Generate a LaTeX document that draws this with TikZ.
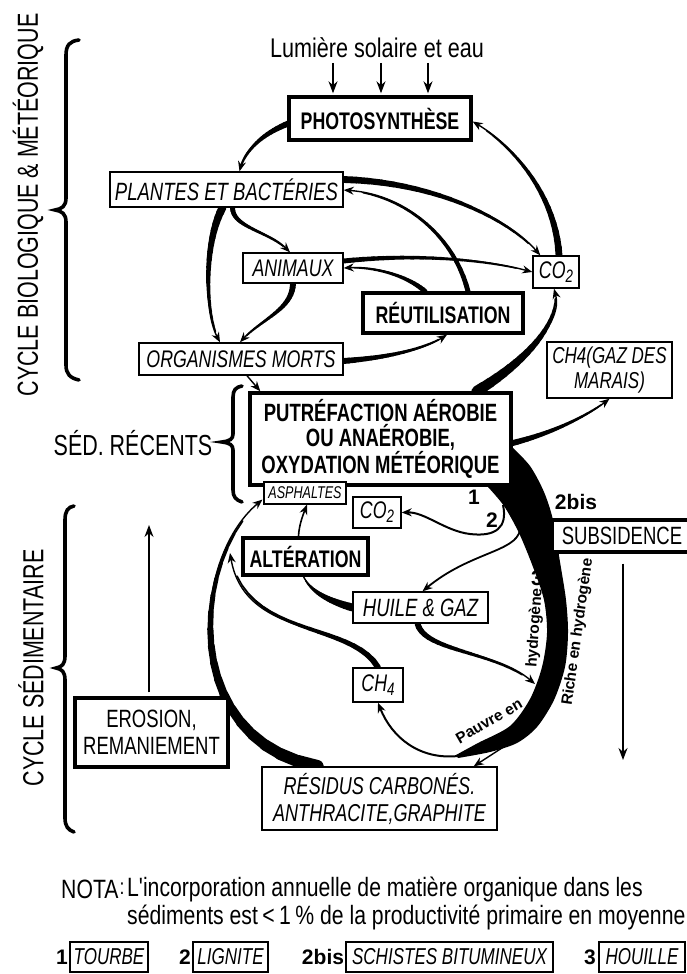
\documentclass[tikz,border=0pt]{standalone}
\usepackage{fontspec}
\setmainfont{Liberation Sans}
\newfontfamily\fN[FakeStretch=0.8]{Liberation Sans}
\newfontfamily\fC[FakeStretch=0.74]{Liberation Sans}
\usetikzlibrary{arrows.meta,calc}
\pgfdeclarelayer{bg}
\pgfsetlayers{bg,main}
\newcommand\subx[1]{\raisebox{-0.3ex}{\fontsize{18}{18}\selectfont #1}}
\newcommand\bzpt[6]{%
  \coordinate (bzA) at ($(#1)!#5!(#2)$);%
  \coordinate (bzB) at ($(#2)!#5!(#3)$);%
  \coordinate (bzC) at ($(#3)!#5!(#4)$);%
  \coordinate (bzD) at ($(bzA)!#5!(bzB)$);%
  \coordinate (bzE) at ($(bzB)!#5!(bzC)$);%
  \coordinate (#6) at ($(bzD)!#5!(bzE)$);%
}
\newcommand\taper[6]{%
  \coordinate (tqa) at (#1);%
  \foreach \k in {1,...,18}{%
    \pgfmathsetmacro\tzT{\k/20}%
    \pgfmathsetmacro\tzW{#5+(#6-(#5))*(\k-0.5)/18}%
    \bzpt{#1}{#2}{#3}{#4}{\tzT}{tqb}%
    \draw[line width=\tzW pt,line cap=round] (tqa) -- (tqb);%
    \coordinate (tqa) at (tqb);%
  }%
}
\newcommand\conn[6][]{%
  \taper{#2}{#3}{#4}{#5}{#6}{1.4}%
  \draw[arr,#1] (#2) .. controls (#3) and (#4) .. (#5);%
}
\tikzset{
  sz/.style 2 args={minimum width=#1pt,minimum height=#2pt},
  box/.style={draw,line width=1.4pt,fill=white,inner sep=0pt,align=center,font=\fC\itshape\fontsize{24}{27}\selectfont},
  tbox/.style={draw,line width=3.4pt,fill=white,inner sep=0pt,align=center,font=\fC\bfseries\fontsize{24}{27}\selectfont},
  lab/.style={inner sep=0pt,align=center},
  arr/.style={line width=1.4pt,-{Stealth[length=10pt,width=8pt]}},
  thinarr/.style={line width=1.3pt,-{Stealth[length=12pt,width=9pt]}},
  brc/.style={line width=3.6pt,line cap=round},
  num/.style={inner sep=0pt,font=\bfseries\fontsize{21}{23}\selectfont},
  curv/.style={inner sep=0pt,font=\bfseries\fontsize{15.5}{17}\selectfont},
  leg/.style={box,minimum height=30pt,font=\fC\itshape\fontsize{23}{25}\selectfont},
}
\begin{document}
\begin{tikzpicture}[x=1pt,y=-1pt]
\useasboundingbox (0,0) rectangle (687,974);
\begin{pgfonlayer}{bg}
\fill[white] (0,0) rectangle (687,974);
\end{pgfonlayer}

% ---------- nodes ----------
\node[tbox,sz={182}{43}] (photo) at (380,118.5) {PHOTOSYNTHÈSE};
\node[box,sz={233}{35},font=\fC\itshape\fontsize{25}{27}\selectfont] (plantes) at (226.5,189.5) {PLANTES ET BACTÉRIES};
\node[box,sz={100}{30}] (animaux) at (293,268) {ANIMAUX};
\node[box,sz={46}{32}] (co2a) at (556,272) {CO\subx{2}};
\node[tbox,sz={160}{40}] (reutil) at (443,313) {RÉUTILISATION};
\node[box,sz={204}{32}] (morts) at (241,359) {ORGANISMES MORTS};
\node[box,sz={125}{56},font=\fC\itshape\fontsize{23}{25}\selectfont] (ch4m) at (609.5,370) {CH4(GAZ DES\\MARAIS)};
\node[tbox,sz={261}{92},font=\fC\bfseries\fontsize{25}{25.5}\selectfont] (putref) at (380.5,439) {PUTRÉFACTION AÉROBIE\\OU ANAÉROBIE,\\OXYDATION MÉTÉORIQUE};
\node[box,sz={82}{22},line width=1.1pt,font=\fC\itshape\fontsize{17}{18}\selectfont] (asph) at (305,493) {ASPHALTES};
\node[box,sz={48}{31}] (co2b) at (377,512.5) {CO\subx{2}};
\node[tbox,sz={140}{32},font=\fC\fontsize{25}{27}\selectfont] (subs) at (622,536) {SUBSIDENCE};
\node[tbox,sz={125}{37}] (alter) at (305.5,556.5) {ALTÉRATION};
\node[box,sz={135}{31},font=\fC\itshape\fontsize{25}{27}\selectfont] (huile) at (420.5,607.5) {HUILE \& GAZ};
\node[box,sz={50}{34}] (ch4b) at (378,685) {CH\subx{4}};
\node[tbox,sz={153}{69},font=\fC\fontsize{25}{27}\selectfont] (erosion) at (151.5,732.5) {EROSION,\\REMANIEMENT};
\node[box,sz={235}{63},font=\fC\itshape\fontsize{24.4}{27}\selectfont] (residus) at (379.5,798.5) {RÉSIDUS CARBONÉS.\\ANTHRACITE,GRAPHITE};

% text labels
\node[lab,font=\fN\fontsize{27}{29}\selectfont] (lum) at (377,48) {Lumière solaire et eau};
\node[lab,rotate=90,font=\fC\fontsize{29}{31}\selectfont] (cyc1) at (28,205) {CYCLE BIOLOGIQUE \& MÉTÉORIQUE};
\node[lab,font=\fC\fontsize{29}{31}\selectfont] (sed) at (133,443) {SÉD. RÉCENTS};
\node[lab,rotate=90,font=\fC\fontsize{29}{31}\selectfont] (cyc2) at (31,668) {CYCLE SÉDIMENTAIRE};
\node[num] (k1) at (474,497) {1};
\node[num] (k2) at (492,520) {2};
\node[num] (k2b) at (576,502) {2bis};
\node[num] (k3) at (537,578) {3};
\node[curv,rotate=30] (pauv) at (489,721) {Pauvre en};
\node[curv,rotate=86] (hyd1) at (535,628) {hydrogène};
\node[curv,rotate=82] (riche) at (578,632) {Riche en hydrogène};

% NOTA
\node[lab,anchor=west,font=\fN\fontsize{26.5}{28}\selectfont] (nota) at (61,889) {NOTA};
\node[lab,font=\fN\fontsize{22}{24}\selectfont] (colon) at (122,889) {:};
\node[lab,anchor=west,font=\fN\fontsize{26.5}{28}\selectfont] (nota1) at (127,889) {L'incorporation annuelle de matière organique dans les};
\node[lab,anchor=west,font=\fN\fontsize{26.5}{28}\selectfont] (nota2) at (127,917) {sédiments est\,<\,1\,\% de la productivité primaire en moyenne};

% legend
\node[num] (n1) at (62,957) {1};
\node[leg,minimum width=78pt] (tourbe) at (109,957) {TOURBE};
\node[num] (n2) at (185,957) {2};
\node[leg,minimum width=75pt] (lignite) at (230.5,957) {LIGNITE};
\node[num] (n2b) at (323,957) {2bis};
\node[leg,minimum width=207pt] (schistes) at (449.5,957) {SCHISTES BITUMINEUX};
\node[num] (n3) at (590,957) {3};
\node[leg,minimum width=86pt] (houille) at (642,957) {HOUILLE};

% ---------- connectors ----------
\begin{pgfonlayer}{bg}
% braces
\draw[brc] (79,40) .. controls (70,41) and (66,45) .. (66,55) -- (66,198) .. controls (66,206) and (62,209) .. (55,210) .. controls (62,211) and (66,214) .. (66,222) -- (66,365) .. controls (66,374) and (70,378) .. (79,380);
\draw[brc] (242,386) .. controls (236,387) and (233,390) .. (233,397) -- (233,434) .. controls (233,439) and (230,441) .. (222,442) .. controls (230,443) and (233,445) .. (233,450) -- (233,490) .. controls (233,497) and (236,500) .. (242,502);
\draw[brc] (74,506) .. controls (68,507) and (65,511) .. (65,520) -- (65,656) .. controls (65,664) and (62,667) .. (56,668) .. controls (62,669) and (65,672) .. (65,680) -- (65,818) .. controls (65,826) and (68,830) .. (74,832);

% sunlight arrows
\coordinate (l1s) at (333,63); \coordinate (l2s) at (381,63); \coordinate (l3s) at (428,63);
\draw[thinarr] (l1s) -- ($(photo.north)+(-47,-2)$);
\draw[thinarr] (l2s) -- ($(photo.north)+(1,-2)$);
\draw[thinarr] (l3s) -- ($(photo.north)+(48,-2)$);

% biological cycle
\coordinate (c1s) at ($(photo.west)+(1,5)$);
\coordinate (c1e) at ($(plantes.north)+(13,0)$);
\conn{c1s}{262,134}{245,150}{c1e}{6}
\coordinate (c2s) at ($(plantes.south)+(-4,0)$);
\coordinate (c2e) at ($(morts.north)+(-21,0)$);
\conn{c2s}{205,240}{203,310}{c2e}{8}
\coordinate (c3s) at ($(plantes.south)+(6,0)$);
\coordinate (c3e) at ($(animaux.north)+(-3,0)$);
\conn{c3s}{233,228}{268,230}{c3e}{5}
\coordinate (c4s) at (animaux.south);
\coordinate (c4e) at ($(morts.north)+(-1,0)$);
\conn{c4s}{292,310}{262,318}{c4e}{6}
\coordinate (c5s) at ($(plantes.east)+(0,-10)$);
\coordinate (c5e) at ($(co2a.north west)+(8,0)$);
\conn{c5s}{430,182}{505,215}{c5e}{7}
\coordinate (c6s) at ($(reutil.north)+(25,0)$);
\coordinate (c6e) at ($(plantes.east)+(0,0.5)$);
\conn{c6s}{455,240}{410,195}{c6e}{5}
\coordinate (c7s) at ($(reutil.north)+(-18,0)$);
\coordinate (c7e) at (animaux.east);
\conn{c7s}{410,278}{380,266}{c7e}{5}
\coordinate (c8s) at ($(animaux.east)+(0,-7)$);
\coordinate (c8e) at (co2a.west);
\conn{c8s}{410,254}{480,258}{c8e}{5}
\coordinate (c9s) at ($(co2a.north)+(3,0)$);
\coordinate (c9e) at ($(photo.east)+(0,3)$);
\conn{c9s}{556,200}{520,150}{c9e}{7}
\coordinate (c10s) at ($(morts.east)+(0,2)$);
\coordinate (c10e) at ($(reutil.south)+(4,0)$);
\conn{c10s}{380,358}{420,352}{c10e}{6}
\coordinate (c11s) at ($(morts.south)+(6,0)$);
\coordinate (c11e) at ($(putref.north west)+(12,0)$);
\draw[arr] (c11s) -- (c11e);
\coordinate (c12s) at ($(putref.north east)+(-36,0)$);
\coordinate (c12e) at ($(co2a.south)+(-2,0)$);
\conn{c12s}{525,362}{563,322}{c12e}{11}
\coordinate (c13s) at ($(putref.east)+(0,4)$);
\coordinate (c13e) at (ch4m.south);
\conn{c13s}{545,435}{582,420}{c13e}{6}

% sedimentary cycle: black band
\fill plot[smooth,tension=0.5] coordinates {(511,446) (530,466) (544,492) (553,520) (560,562) (566,600) (568,633) (565,667) (554,700) (537,727) (517,743) (490,752) (458,758)}
  -- plot[smooth,tension=0.5] coordinates {(456,755) (478,743) (510,726) (530,699) (542,667) (547,633) (544,600) (533,567) (519,533) (504,506) (488,487)} -- cycle;
\coordinate (tails) at (458,756);
\draw[arr,line width=2pt] (tails) .. controls (420,760) and (392,738) .. (ch4b.south);
\coordinate (brs) at (505,746);
\coordinate (bre) at ($(residus.north east)+(-24,0)$);
\draw[arr] (brs) -- (bre);
\coordinate (w1s) at (503,505);
\draw[arr,line width=2pt] (w1s) .. controls (508,528) and (495,537) .. (470,534) .. controls (445,531) and (425,512) .. (co2b.east);
\coordinate (w2s) at (520,530);
\coordinate (w2e) at ($(huile.north)+(2,0)$);
\draw[arr,line width=1.8pt] (w2s) .. controls (516,552) and (470,552) .. (w2e);
\coordinate (c14s) at ($(huile.south)+(-3,0)$);
\coordinate (c14e) at (535,684);
\conn{c14s}{425,652}{495,650}{c14e}{6}
\coordinate (c15s) at ($(alter.north)+(-7,0)$);
\coordinate (c15e) at ($(asph.south)+(2,0)$);
\draw[arr,line width=1.6pt] (c15s) .. controls (299,525) and (303,515) .. (c15e);
\coordinate (c16s) at (huile.west);
\coordinate (c16e) at ($(alter.south)+(-2,0)$);
\conn[-]{c16s}{325,600}{310,590}{c16e}{8}
\coordinate (c17s) at (ch4b.north);
\coordinate (c17e) at (230,553);
\conn{c17s}{350,620}{245,640}{c17e}{6}
\coordinate (c18s) at ($(residus.north west)+(56,0)$);
\coordinate (c18e) at ($(asph.south west)+(-1,-5)$);
\conn{c18s}{180,740}{190,560}{c18e}{13}

% subsidence and erosion arrows
\coordinate (ss) at ($(subs.south)+(1,10)$);
\coordinate (se) at (623,760);
\draw[thinarr] (ss) -- (se);
\coordinate (es) at ($(erosion.north)+(-2.5,-4)$);
\coordinate (ee) at (149,525);
\draw[thinarr] (es) -- (ee);
\end{pgfonlayer}
\end{tikzpicture}
\end{document}
